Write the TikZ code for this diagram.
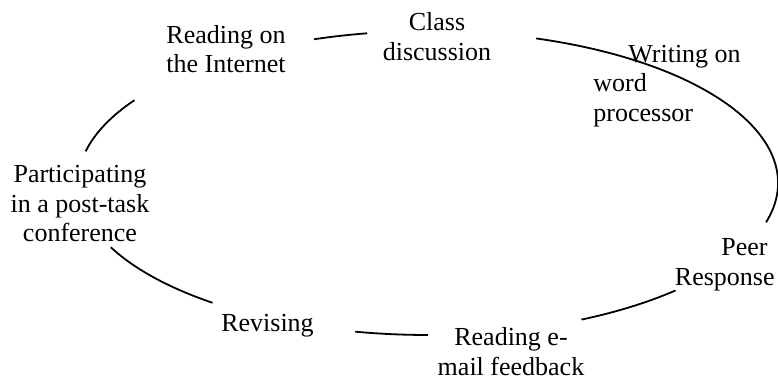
\documentclass[tikz,border=0pt]{standalone}
\usepackage{fontspec}
\setmainfont{Liberation Serif}
\begin{document}
\begin{tikzpicture}[x=0.5pt,y=-0.5pt,
  lbl/.style={font=\fontsize{13}{14.75}\selectfont, inner sep=0pt, align=center},
  ring/.style={line width=0.9pt, black}]
\useasboundingbox (0,0) rectangle (778,378);
\coordinate (c) at (428,183);
\node[lbl] (internet) at (226,49.3) {Reading on\\the Internet};
\node[lbl] (class) at (437,36.8) {Class\\discussion};
\node[lbl, align=left, anchor=west] (writing) at (593,86) {\hspace*{17.5pt}Writing on\\word\\processor};
\node[lbl, align=right, anchor=east] (peer) at (775,265) {Peer\hspace*{3.5pt}\\Response};
\node[lbl] (email) at (511,351.5) {Reading e-\\mail feedback};
\node[lbl, anchor=base] (revising) at (267.5,332) {Revising};
\node[lbl] (conference) at (80,204) {Participating\\in a post-task\\conference};
\foreach \a/\b in {192/213, 251/260, 288/375, 45/64, 90/102, 128/155}
  \draw[ring] ([shift={(\a:350 and 152)}]c) arc[start angle=\a, end angle=\b, x radius=350, y radius=152];
\end{tikzpicture}
\end{document}
